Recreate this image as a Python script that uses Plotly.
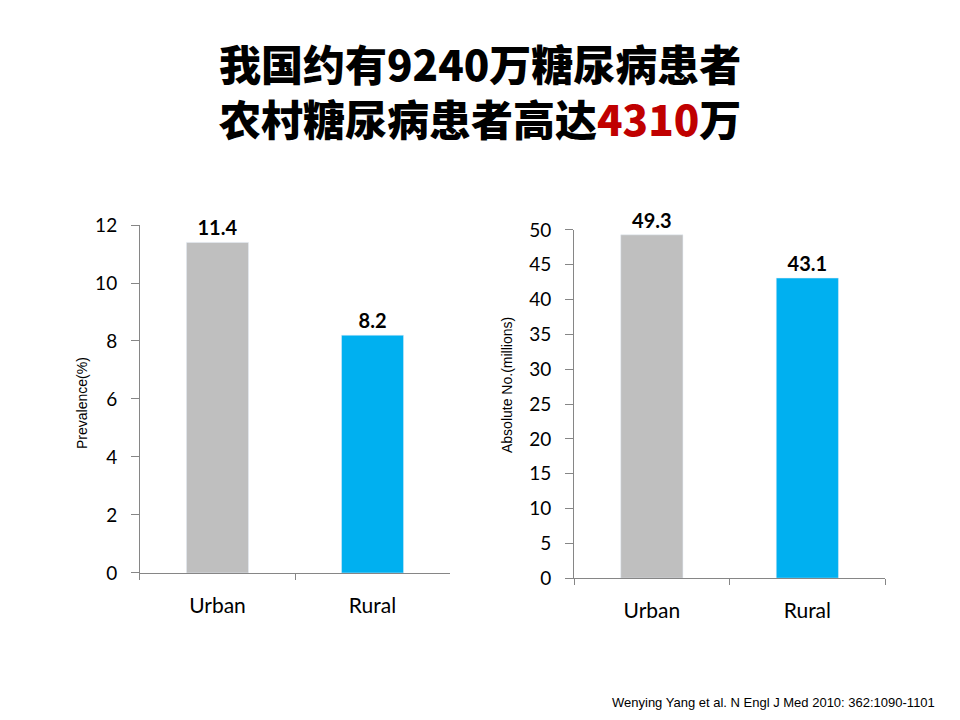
import plotly.graph_objects as go

categories = ["Urban", "Rural"]
prevalence = [11.4, 8.2]
absolute_no = [49.3, 43.1]
bar_colors = ["#BFBFBF", "#00B0F0"]

tick_font = dict(family="Lato, Open Sans, sans-serif", size=19, color="#000000")
xtick_font = dict(family="Lato, Open Sans, sans-serif", size=21, color="#000000")
label_font = dict(family="Lato, Open Sans, sans-serif", size=20, color="#000000")
axis_color = "#868686"

fig = go.Figure()
fig.add_trace(go.Bar(x=categories, y=prevalence, marker_color=bar_colors,
                     text=[f"<b>{v}</b>" for v in prevalence], textposition="outside",
                     textfont=label_font, cliponaxis=False, xaxis="x", yaxis="y"))
fig.add_trace(go.Bar(x=categories, y=absolute_no, marker_color=bar_colors,
                     text=[f"<b>{v}</b>" for v in absolute_no], textposition="outside",
                     textfont=label_font, cliponaxis=False, xaxis="x2", yaxis="y2"))

xaxis_common = dict(showline=True, linecolor=axis_color, ticks="outside", tickson="boundaries",
                    tickcolor=axis_color, ticklen=6, tickfont=xtick_font, showgrid=False,
                    ticklabelstandoff=14, range=[-0.5, 1.5], automargin=False)
yaxis_common = dict(showline=True, linecolor=axis_color, ticks="outside", tickcolor=axis_color,
                    ticklen=8, tickfont=tick_font, showgrid=False, zeroline=False,
                    ticklabelstandoff=10, automargin=False)

fig.update_layout(
    width=960, height=720, margin=dict(l=0, r=0, t=0, b=0),
    paper_bgcolor="white", plot_bgcolor="white", showlegend=False, bargap=0.6,
    xaxis=dict(domain=[0.1458, 0.4688], anchor="y", **xaxis_common),
    yaxis=dict(domain=[0.2042, 0.6875], anchor="x", range=[0, 12], dtick=2, **yaxis_common),
    xaxis2=dict(domain=[0.598, 0.922], anchor="y2", **xaxis_common),
    yaxis2=dict(domain=[0.197, 0.6806], anchor="x2", range=[0, 50], dtick=5, **yaxis_common),
)

# two title lines in one text block
title_font = dict(family="Noto Sans CJK SC", size=42, color="#000000", weight=900)
fig.add_annotation(text="我国约有9240万糖尿病患者<br>农村糖尿病患者高达"
                        "<span style='color:#C00000'>4310</span>万",
                   x=0.5, y=1 - 90 / 720, xref="paper", yref="paper",
                   xanchor="center", yanchor="middle", showarrow=False, font=title_font)
fig.add_annotation(text="Prevalence(%)", textangle=-90, x=72 / 960, y=1 - 403 / 720,
                   xref="paper", yref="paper", showarrow=False,
                   font=dict(family="Liberation Sans, Arial", size=14, color="#000000"))
fig.add_annotation(text="Absolute No.(millions)", textangle=-90, x=507 / 960, y=1 - 385 / 720,
                   xref="paper", yref="paper", showarrow=False,
                   font=dict(family="Liberation Sans, Arial", size=14, color="#000000"))
fig.add_annotation(text="Wenying Yang et al. N Engl J Med 2010: 362:1090-1101",
                   x=937 / 960, y=1 - 702 / 720, xref="paper", yref="paper",
                   xanchor="right", yanchor="middle", showarrow=False,
                   font=dict(family="Liberation Sans, Arial", size=13, color="#000000"))

fig.write_html("out.html", config={"displayModeBar": False},
               post_script="document.body.style.margin='0';")
